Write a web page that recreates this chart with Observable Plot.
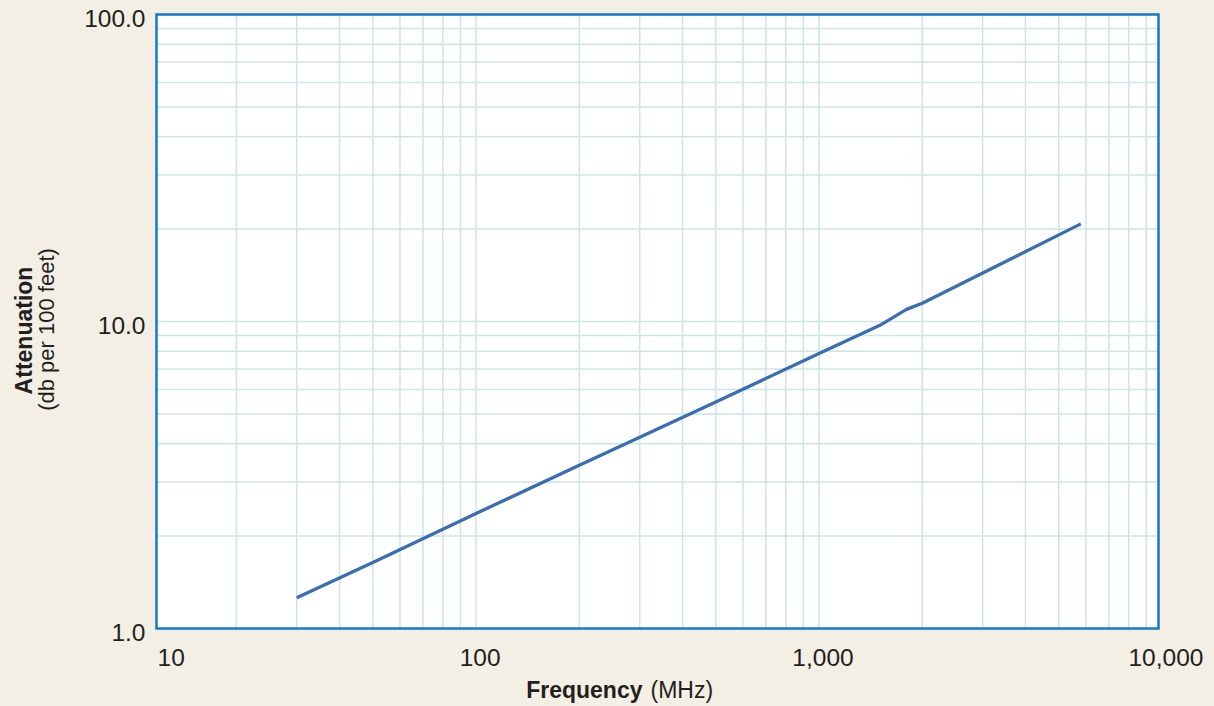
<!DOCTYPE html>
<html>
<head>
<meta charset="utf-8">
<script src="https://cdn.jsdelivr.net/npm/d3@7"></script>
<script src="https://cdn.jsdelivr.net/npm/@observablehq/plot@0.6"></script>
<style>
  html, body { margin: 0; padding: 0; background: #f3efe5; }
  #chart svg { display: block; }
</style>
</head>
<body>
<div id="chart"></div>
<script>
// Frequency (MHz) and attenuation (dB per 100 feet)
const frequency = [30, 50, 100, 200, 500, 1000, 1500, 1800, 2000, 5800];
const attenuation = [1.26, 1.64, 2.37, 3.40, 5.47, 7.86, 9.70, 10.95, 11.46, 20.8];

// Grid values and tick labels
const xGrid = [20, 30, 40, 50, 60, 70, 80, 90,
               100, 200, 300, 400, 500, 600, 700, 800, 900,
               1000, 2000, 3000, 4000, 5000, 6000, 7000, 8000, 9000];
const yGrid = [2, 3, 4, 5, 6, 7, 8, 9, 10, 20, 30, 40, 50, 60, 70, 80, 90];
const xTicksFirst = [10];
const xTicks = [100, 1000, 10000];
const yTicks = [1, 10, 100];

const data = frequency.map((f, i) => ({f, a: attenuation[i]}));

const font = "'Liberation Sans', Arial, Helvetica, sans-serif";
const gridColor = "#cce5e5";
const frameColor = "#1479c6";
const lineColor = "#3b6db4";

const chart = Plot.plot({
  width: 1214,
  height: 706,
  marginLeft: 156,
  marginRight: 56,
  marginTop: 14,
  marginBottom: 78,
  style: {background: "transparent", color: "#231f20", fontFamily: font},
  x: {type: "log", domain: [11.7, 9770]},
  y: {type: "log", domain: [1, 100]},
  marks: [
    Plot.frame({fill: "white"}),
    Plot.ruleX(xGrid, {stroke: gridColor, strokeWidth: 1.5}),
    Plot.ruleY(yGrid, {stroke: gridColor, strokeWidth: 1.5}),
    Plot.line(data, {x: "f", y: "a", stroke: lineColor, strokeWidth: 3.3, strokeLinejoin: "round", strokeLinecap: "butt"}),
    Plot.frame({stroke: frameColor, strokeWidth: 2.5}),
    Plot.axisX(xTicksFirst, {tickFormat: d3.format(","), tickSize: 0, tickPadding: 20, textAnchor: "start", dx: 24.5, fontSize: 24.5, label: null}),
    Plot.axisX(xTicks, {tickFormat: d3.format(","), tickSize: 0, tickPadding: 20, dx: 4, fontSize: 24.5, label: null}),
    Plot.axisY(yTicks, {tickFormat: d3.format(".1f"), tickSize: 0, tickPadding: 11, dy: 5, fontSize: 24.5, label: null}),
    Plot.text(["Frequency"], {frameAnchor: "bottom", textAnchor: "end", lineAnchor: "bottom", dx: -15, dy: 69, fontSize: 23, fontWeight: "bold"}),
    Plot.text(["(MHz)"], {frameAnchor: "bottom", textAnchor: "start", lineAnchor: "bottom", dx: -7, dy: 69, fontSize: 23}),
    Plot.text(["Attenuation"], {frameAnchor: "left", rotate: -90, textAnchor: "middle", lineAnchor: "bottom", dx: -125, dy: 9, fontSize: 23, fontWeight: "bold"}),
    Plot.text(["(db per 100 feet)"], {frameAnchor: "left", rotate: -90, textAnchor: "middle", lineAnchor: "bottom", dx: -103, dy: 8, fontSize: 22})
  ]
});
document.getElementById("chart").append(chart);
</script>
</body>
</html>
